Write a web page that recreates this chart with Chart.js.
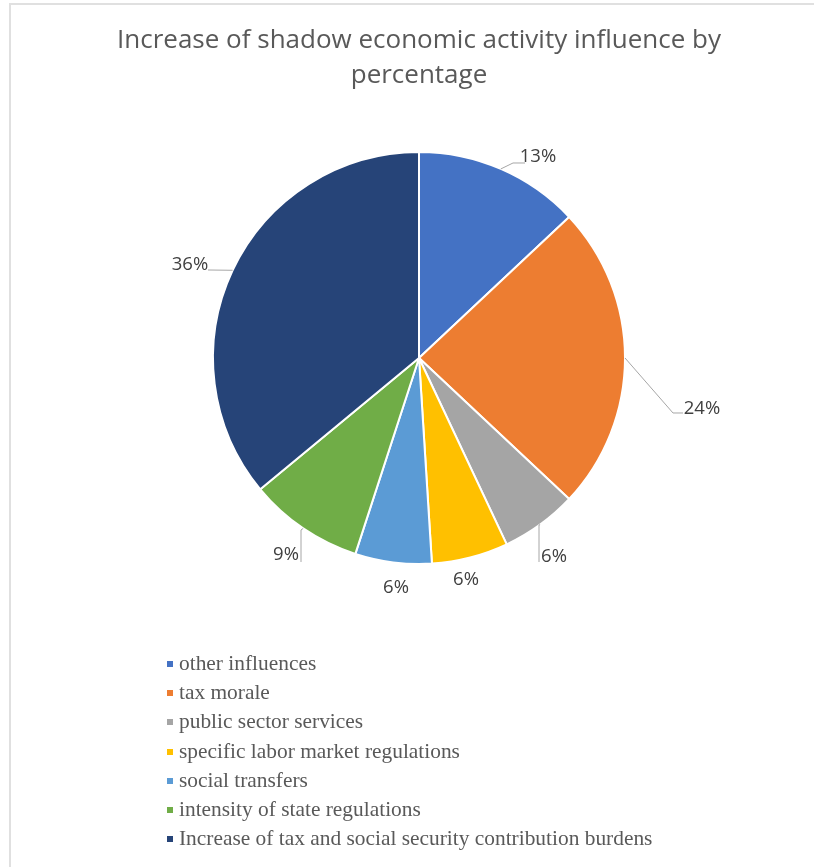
<!DOCTYPE html>
<html>
<head>
<meta charset="utf-8">
<script src="https://cdn.jsdelivr.net/npm/chart.js@4.4.1/dist/chart.umd.min.js"></script>
<style>
  body { margin: 0; background: #fff; }
  #wrap { position: relative; width: 814px; height: 867px; overflow: hidden; }
  #frame { position: absolute; left: 9px; top: 3px; width: 900px; height: 900px;
           border-left: 2px solid #e0e0e0; border-top: 2px solid #e0e0e0; }
  #legend { position: absolute; left: 167px; top: 649px; margin: 0; padding: 0; list-style: none;
            font-family: "Liberation Serif", "Times New Roman", serif; font-size: 21.4px; color: #595959; }
  #legend li { height: 29.2px; line-height: 29.2px; white-space: nowrap; }
  #legend span { display: inline-block; width: 6px; height: 6px; margin-right: 6px; vertical-align: middle; position: relative; top: -1px; }
</style>
</head>
<body>
<div id="wrap">
  <div id="frame"></div>
  <canvas id="pie-chart" width="814" height="867"></canvas>
  <ul id="legend"></ul>
</div>
<script>
var ctx = document.getElementById('pie-chart');

// chart data
var categories = [
  'other influences',
  'tax morale',
  'public sector services',
  'specific labor market regulations',
  'social transfers',
  'intensity of state regulations',
  'Increase of tax and social security contribution burdens'
];
var shares = [13, 24, 6, 6, 6, 9, 36];
var colours = ['#4472C4', '#ED7D31', '#A5A5A5', '#FFC000', '#5B9BD5', '#70AD47', '#264478'];

// where each % label sits, relative to the pie centre (leader goes from the rim to the points)
var labelSpots = [
  { text: [119, -201], line: [[94, -195], [106, -195]] },
  { text: [283, 51],   line: [[254, 55], [264, 55]] },
  { text: [135, 199],  line: [[120, 167], [120, 204]] },
  { text: [47, 222],   line: [] },
  { text: [-23, 230],  line: [] },
  { text: [-133, 197], line: [[-118, 172], [-118, 204]] },
  { text: [-229, -93], line: [[-211, -88]] }
];

// legend (vertical list, like the original)
var legendEl = document.getElementById('legend');
categories.forEach(function (name, i) {
  var li = document.createElement('li');
  var sq = document.createElement('span');
  sq.style.background = colours[i];
  li.appendChild(sq);
  li.appendChild(document.createTextNode(name));
  legendEl.appendChild(li);
});

var pctLabels = {
  id: 'pctLabels',
  afterDatasetsDraw: function (chart) {
    var c = chart.ctx;
    var arcs = chart.getDatasetMeta(0).data;
    var total = shares.reduce(function (a, b) { return a + b; }, 0);
    c.save();
    c.font = '18.5px "Open Sans"';
    c.fillStyle = '#404040';
    c.textAlign = 'center';
    c.textBaseline = 'middle';
    arcs.forEach(function (arc, i) {
      var cx = arc.x, cy = arc.y;
      var mid = (arc.startAngle + arc.endAngle) / 2;
      var spot = labelSpots[i];
      if (spot.line.length) {
        c.strokeStyle = '#a6a6a6';
        c.lineWidth = 1;
        c.beginPath();
        c.moveTo(cx + Math.cos(mid) * arc.outerRadius, cy + Math.sin(mid) * arc.outerRadius);
        spot.line.forEach(function (p) { c.lineTo(cx + p[0], cy + p[1]); });
        c.stroke();
      }
      var pct = Math.round(shares[i] / total * 100) + '%';
      c.fillText(pct, cx + spot.text[0], cy + spot.text[1]);
    });
    c.restore();
  }
};

var myChart = new Chart(ctx, {
  type: 'pie',
  data: {
    labels: categories,
    datasets: [{
      data: shares,
      backgroundColor: colours,
      borderColor: '#ffffff',
      borderWidth: 2
    }]
  },
  options: {
    responsive: false,
    animation: false,
    radius: 206,
    layout: { padding: { left: 24, right: 0, top: 0, bottom: 258 } },
    plugins: {
      legend: { display: false },
      tooltip: { enabled: false },
      title: {
        display: true,
        text: ['Increase of shadow economic activity influence by', 'percentage'],
        color: '#595959',
        font: { family: 'Open Sans', size: 26, weight: 'normal', lineHeight: 1.346 },
        padding: { top: 23, bottom: 14 }
      }
    }
  },
  plugins: [pctLabels]
});
</script>
</body>
</html>
